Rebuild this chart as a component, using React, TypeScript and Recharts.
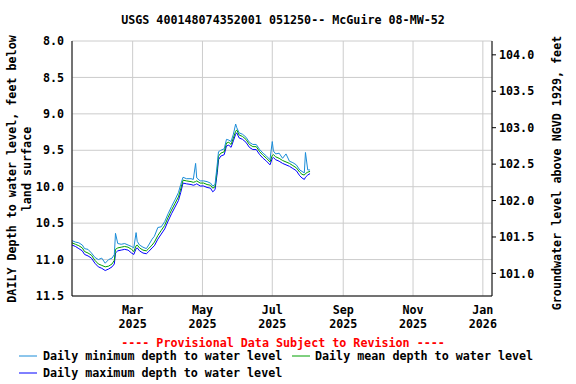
import React from 'react';
import { LineChart, Line, XAxis, YAxis, CartesianGrid } from 'recharts';

// day number counted from 2025-01-01 (= 0)
const days = [6, 9, 12, 15, 17, 20, 23, 26, 29, 32, 35, 38, 41, 43, 44, 46, 49, 52, 55, 58, 60, 62, 63, 65, 68, 71, 73, 76, 78, 81, 84, 87, 90, 93, 96, 99, 101, 103, 106, 110, 112, 114, 115, 118, 121, 124, 127, 129, 131, 133, 134, 136, 139, 141, 143, 145, 147, 149, 150, 152, 155, 158, 161, 164, 167, 170, 173, 176, 179, 181, 182, 184, 187, 190, 193, 196, 199, 202, 205, 207, 209, 210, 212, 214];

const dailyMean = [10.77, 10.79, 10.81, 10.84, 10.89, 10.91, 10.94, 11.01, 11.06, 11.08, 11.10, 11.09, 11.06, 11.01, 10.86, 10.84, 10.83, 10.82, 10.83, 10.86, 10.89, 10.81, 10.80, 10.84, 10.87, 10.88, 10.85, 10.80, 10.76, 10.67, 10.60, 10.53, 10.42, 10.32, 10.23, 10.14, 10.03, 9.91, 9.92, 9.93, 9.94, 9.93, 9.92, 9.95, 9.95, 9.97, 9.98, 10.02, 10.00, 9.75, 9.58, 9.54, 9.52, 9.40, 9.39, 9.42, 9.33, 9.24, 9.22, 9.29, 9.31, 9.35, 9.42, 9.45, 9.45, 9.52, 9.57, 9.61, 9.66, 9.57, 9.56, 9.59, 9.61, 9.64, 9.66, 9.68, 9.71, 9.74, 9.80, 9.83, 9.84, 9.82, 9.80, 9.79];

const dailyMin = [10.74, 10.76, 10.77, 10.80, 10.85, 10.86, 10.91, 10.97, 11.00, 10.98, 11.05, 11.00, 10.98, 10.93, 10.64, 10.78, 10.79, 10.78, 10.80, 10.82, 10.84, 10.63, 10.75, 10.80, 10.83, 10.85, 10.80, 10.72, 10.68, 10.56, 10.55, 10.48, 10.37, 10.27, 10.18, 10.08, 9.97, 9.87, 9.89, 9.89, 9.90, 9.68, 9.88, 9.92, 9.92, 9.93, 9.95, 9.99, 9.97, 9.68, 9.52, 9.50, 9.48, 9.35, 9.36, 9.38, 9.28, 9.14, 9.19, 9.26, 9.28, 9.32, 9.39, 9.42, 9.42, 9.49, 9.54, 9.58, 9.63, 9.38, 9.51, 9.55, 9.54, 9.61, 9.55, 9.65, 9.67, 9.70, 9.77, 9.79, 9.81, 9.53, 9.77, 9.77];

const dailyMax = [10.80, 10.82, 10.85, 10.88, 10.93, 10.95, 10.98, 11.05, 11.10, 11.12, 11.15, 11.13, 11.10, 11.06, 10.91, 10.88, 10.87, 10.86, 10.87, 10.91, 10.93, 10.85, 10.84, 10.88, 10.91, 10.92, 10.89, 10.84, 10.81, 10.72, 10.65, 10.58, 10.47, 10.37, 10.28, 10.19, 10.08, 9.95, 9.96, 9.97, 9.98, 9.97, 9.96, 9.99, 9.99, 10.01, 10.02, 10.07, 10.04, 9.80, 9.63, 9.58, 9.56, 9.44, 9.43, 9.46, 9.37, 9.28, 9.26, 9.33, 9.35, 9.39, 9.46, 9.49, 9.49, 9.56, 9.61, 9.65, 9.70, 9.61, 9.60, 9.63, 9.65, 9.68, 9.70, 9.72, 9.75, 9.78, 9.85, 9.88, 9.90, 9.87, 9.84, 9.82];

const monthTicks = [59, 120, 181, 243, 304, 365];
const monthLabels = ['Mar', 'May', 'Jul', 'Sep', 'Nov', 'Jan'];
const yearLabels = ['2025', '2025', '2025', '2025', '2025', '2026'];
const depthTicks = [8.0, 8.5, 9.0, 9.5, 10.0, 10.5, 11.0, 11.5];
const elevTicks = [101.0, 101.5, 102.0, 102.5, 103.0, 103.5, 104.0];
const depthDomain = [8.0, 11.5];
const elevDomain = [100.69, 104.19];
const dayDomain = [6, 373];

const title = 'USGS 400148074352001 051250-- McGuire 08-MW-52';
const provisional = '---- Provisional Data Subject to Revision ----';
const leftLabel1 = 'DAILY Depth to water level, feet below';
const leftLabel2 = 'land surface';
const rightLabel = 'Groundwater level above NGVD 1929, feet';
const legendMin = 'Daily minimum depth to water level';
const legendMean = 'Daily mean depth to water level';
const legendMax = 'Daily maximum depth to water level';

const data = days.map((d, i) => ({ day: d, min: dailyMin[i], mean: dailyMean[i], max: dailyMax[i] }));

const FONT = "'DejaVu Sans Mono', 'Liberation Mono', monospace";
const FS = 11.7;
const COL_MIN = '#1a8cd8';
const COL_MEAN = '#00a000';
const COL_MAX = '#0000ff';

const tickStyle = { fontFamily: FONT, fontSize: FS, fontWeight: 'bold', fill: '#000' } as any;

const XTick = (props: any) => {
  const { x, y, payload } = props;
  const i = monthTicks.indexOf(payload.value);
  return (
    <g>
      <text x={x} y={y + 18} textAnchor="middle" style={tickStyle}>{monthLabels[i]}</text>
      <text x={x} y={y + 32} textAnchor="middle" style={tickStyle}>{yearLabels[i]}</text>
    </g>
  );
};

export default function App() {
  return (
    <div style={{ position: 'absolute', left: 0, top: 0, width: 576, height: 384, background: '#fff' }}>
      <LineChart width={576} height={384} data={data} margin={{ top: 41, right: 34, bottom: 48, left: 10 }}>
        <CartesianGrid stroke="#cccccc" strokeWidth={1} />
        <XAxis
          dataKey="day"
          type="number"
          domain={dayDomain}
          ticks={monthTicks}
          allowDataOverflow
          height={40}
          tickSize={0}
          tickMargin={0}
          tickLine={false}
          axisLine={{ stroke: '#000' }}
          tick={<XTick />}
          interval={0}
        />
        <XAxis
          xAxisId="top"
          orientation="top"
          type="number"
          domain={dayDomain}
          allowDataOverflow
          height={0}
          tick={false}
          tickLine={false}
          axisLine={{ stroke: '#000' }}
        />
        <YAxis
          type="number"
          domain={depthDomain}
          ticks={depthTicks}
          reversed
          allowDataOverflow
          width={62}
          tickSize={0}
          tickMargin={8}
          tickLine={false}
          axisLine={{ stroke: '#000' }}
          tick={tickStyle}
          tickFormatter={(v: number) => v.toFixed(1)}
          interval={0}
        />
        <YAxis
          yAxisId="right"
          orientation="right"
          type="number"
          domain={elevDomain}
          ticks={elevTicks}
          allowDataOverflow
          width={50}
          tickSize={4}
          tickMargin={3}
          tickLine={{ stroke: '#000' }}
          axisLine={{ stroke: '#000' }}
          tick={tickStyle}
          tickFormatter={(v: number) => v.toFixed(1)}
          interval={0}
        />
        <Line type="linear" dataKey="max" stroke={COL_MAX} strokeWidth={1} dot={false} isAnimationActive={false} />
        <Line type="linear" dataKey="mean" stroke={COL_MEAN} strokeWidth={1} dot={false} isAnimationActive={false} />
        <Line type="linear" dataKey="min" stroke={COL_MIN} strokeWidth={1} dot={false} isAnimationActive={false} />
      </LineChart>
      <svg width={576} height={384} style={{ position: 'absolute', left: 0, top: 0, pointerEvents: 'none' }}>
        <g style={tickStyle}>
          <text x={283} y={24} textAnchor="middle">{title}</text>
          <text x={12} y={169} textAnchor="middle" dominantBaseline="central" transform="rotate(-90 12 169)">{leftLabel1}</text>
          <text x={27} y={169} textAnchor="middle" dominantBaseline="central" transform="rotate(-90 27 169)">{leftLabel2}</text>
          <text x={557} y={173} textAnchor="middle" dominantBaseline="central" transform="rotate(-90 557 173)">{rightLabel}</text>
          <text x={283} y={347} textAnchor="middle" style={{ fill: '#ff0000' }}>{provisional}</text>
          <text x={43} y={360}>{legendMin}</text>
          <text x={315} y={360}>{legendMean}</text>
          <text x={43} y={377}>{legendMax}</text>
        </g>
        <line x1={19} x2={37} y1={356} y2={356} stroke={COL_MIN} strokeWidth={1} />
        <line x1={292} x2={310} y1={356} y2={356} stroke={COL_MEAN} strokeWidth={1} />
        <line x1={19} x2={37} y1={373} y2={373} stroke={COL_MAX} strokeWidth={1} />
      </svg>
    </div>
  );
}
